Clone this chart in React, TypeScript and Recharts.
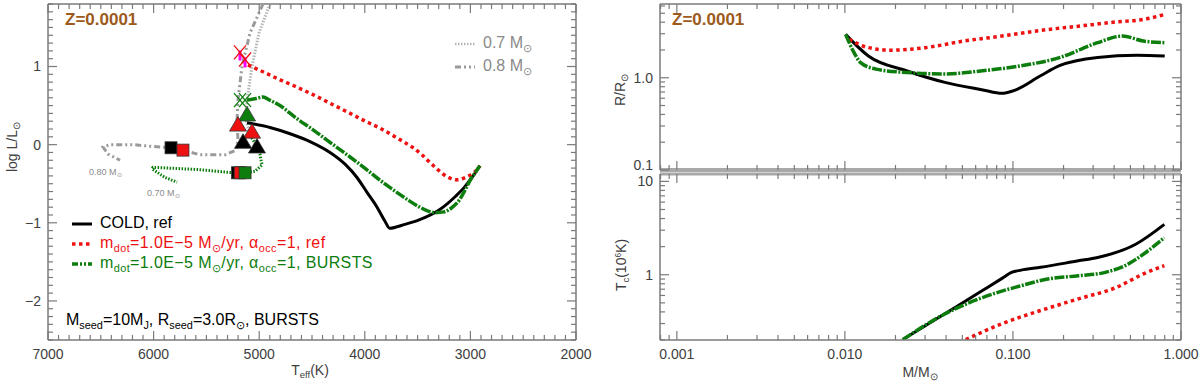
import React from "react";
import { ComposedChart, LineChart, Line, Scatter, XAxis, YAxis, ReferenceLine } from "recharts";

const FRAME = "#7a7a7a";
const TXT = "#404040";
const RED = "#ee1111";
const GREEN = "#0d7d0d";
const BROWN = "#9c5a1c";
const GRAY = "#9a9a9a";
const MAGENTA = "#ff00ff";
const FONT = "'Liberation Sans', Arial, Helvetica, sans-serif";

// ---- HR diagram: Teff [K] vs log L/Lsun ----
const coldRef = [
  { t: 5115, l: 0.28 }, { t: 4898, l: 0.22 }, { t: 4708, l: 0.14 }, { t: 4519, l: 0.04 },
  { t: 4329, l: -0.1 }, { t: 4187, l: -0.25 }, { t: 4074, l: -0.42 }, { t: 3979, l: -0.61 },
  { t: 3884, l: -0.8 }, { t: 3809, l: -0.98 }, { t: 3765, l: -1.07 }, { t: 3620, l: -1.02 },
  { t: 3480, l: -0.96 }, { t: 3300, l: -0.84 }, { t: 3140, l: -0.66 }, { t: 3060, l: -0.55 },
  { t: 2990, l: -0.43 }, { t: 2910, l: -0.27 },
];
const mdotRef = [
  { t: 5106, l: 1.02 }, { t: 4960, l: 0.93 }, { t: 4803, l: 0.83 }, { t: 4650, l: 0.74 },
  { t: 4490, l: 0.64 }, { t: 4330, l: 0.53 }, { t: 4168, l: 0.42 }, { t: 4010, l: 0.31 },
  { t: 3856, l: 0.21 }, { t: 3700, l: 0.09 }, { t: 3543, l: -0.04 }, { t: 3460, l: -0.13 },
  { t: 3382, l: -0.23 }, { t: 3300, l: -0.33 }, { t: 3221, l: -0.41 }, { t: 3127, l: -0.45 },
  { t: 3032, l: -0.41 }, { t: 2937, l: -0.32 }, { t: 2909, l: -0.27 },
];
const mdotBursts = [
  { t: 5115, l: 0.57 }, { t: 5030, l: 0.59 }, { t: 4964, l: 0.61 }, { t: 4900, l: 0.57 },
  { t: 4803, l: 0.5 }, { t: 4650, l: 0.34 }, { t: 4490, l: 0.19 }, { t: 4330, l: 0.03 },
  { t: 4168, l: -0.13 }, { t: 4010, l: -0.29 }, { t: 3880, l: -0.43 }, { t: 3750, l: -0.56 },
  { t: 3600, l: -0.7 }, { t: 3480, l: -0.8 }, { t: 3400, l: -0.85 }, { t: 3330, l: -0.87 },
  { t: 3250, l: -0.86 }, { t: 3170, l: -0.8 }, { t: 3100, l: -0.7 }, { t: 3050, l: -0.58 },
  { t: 3000, l: -0.45 }, { t: 2950, l: -0.35 }, { t: 2910, l: -0.27 },
];
const track08 = [
  { t: 4964, l: 1.8 }, { t: 5087, l: 1.43 }, { t: 5163, l: 1.0 }, { t: 5201, l: 0.57 },
  { t: 5210, l: 0.32 }, { t: 5201, l: 0.06 }, { t: 5220, l: -0.07 }, { t: 5324, l: -0.13 },
  { t: 5561, l: -0.13 }, { t: 5722, l: -0.07 }, { t: 5835, l: -0.04 }, { t: 6034, l: -0.02 },
  { t: 6195, l: 0.0 }, { t: 6413, l: 0.0 }, { t: 6479, l: -0.03 }, { t: 6432, l: -0.12 },
  { t: 6318, l: -0.2 },
];
const track07Upper = [
  { t: 4898, l: 1.8 }, { t: 5002, l: 1.43 }, { t: 5068, l: 1.0 }, { t: 5115, l: 0.57 },
  { t: 5125, l: 0.32 }, { t: 5087, l: 0.12 },
];
const track07Lower = [
  { t: 5087, l: 0.12 }, { t: 5040, l: 0.02 }, { t: 4992, l: -0.13 }, { t: 4973, l: -0.26 },
  { t: 5040, l: -0.34 }, { t: 5134, l: -0.36 }, { t: 5248, l: -0.36 }, { t: 5561, l: -0.32 },
  { t: 6006, l: -0.29 }, { t: 6015, l: -0.31 }, { t: 5892, l: -0.42 }, { t: 5778, l: -0.48 },
];
const blackSquares = [{ t: 5835, l: -0.04 }, { t: 5205, l: -0.36 }];
const redSquares = [{ t: 5722, l: -0.07 }, { t: 5180, l: -0.36 }];
const greenSquares = [{ t: 5134, l: -0.36 }];
const greenTriangles = [{ t: 5115, l: 0.38 }];
const redTriangles = [{ t: 5201, l: 0.25 }, { t: 5068, l: 0.16 }];
const blackTriangles = [{ t: 5153, l: 0.03 }, { t: 5021, l: -0.03 }];
const redCrosses = [{ t: 5182, l: 1.18 }, { t: 5134, l: 1.09 }];
const greenCrosses = [{ t: 5182, l: 0.57 }, { t: 5134, l: 0.57 }];

// ---- radius vs mass ----
const radiusCold = [
  { m: 0.0101, v: 2.95 }, { m: 0.0138, v: 1.72 }, { m: 0.0232, v: 1.19 }, { m: 0.0394, v: 0.89 },
  { m: 0.0662, v: 0.738 }, { m: 0.0861, v: 0.677 }, { m: 0.101, v: 0.724 }, { m: 0.146, v: 1.05 },
  { m: 0.189, v: 1.35 }, { m: 0.319, v: 1.66 }, { m: 0.545, v: 1.75 }, { m: 0.8, v: 1.72 },
];
const radiusMdot = [
  { m: 0.0106, v: 2.61 }, { m: 0.0138, v: 2.12 }, { m: 0.0189, v: 1.99 }, { m: 0.0302, v: 2.12 },
  { m: 0.0511, v: 2.5 }, { m: 0.0861, v: 2.83 }, { m: 0.146, v: 3.26 }, { m: 0.245, v: 3.62 },
  { m: 0.414, v: 4.03 }, { m: 0.597, v: 4.28 }, { m: 0.796, v: 4.84 },
];
const radiusBursts = [
  { m: 0.0101, v: 2.95 }, { m: 0.0112, v: 1.95 }, { m: 0.0124, v: 1.46 }, { m: 0.0153, v: 1.24 },
  { m: 0.0233, v: 1.14 }, { m: 0.0393, v: 1.1 }, { m: 0.066, v: 1.19 }, { m: 0.112, v: 1.35 },
  { m: 0.189, v: 1.65 }, { m: 0.319, v: 2.4 }, { m: 0.448, v: 2.83 }, { m: 0.597, v: 2.5 },
  { m: 0.796, v: 2.4 },
];

// ---- central temperature vs mass ----
const tcCold = [
  { m: 0.0221, v: 0.202 }, { m: 0.0393, v: 0.382 }, { m: 0.0662, v: 0.681 }, { m: 0.0861, v: 0.914 },
  { m: 0.098, v: 1.06 }, { m: 0.112, v: 1.12 }, { m: 0.146, v: 1.2 }, { m: 0.245, v: 1.41 },
  { m: 0.319, v: 1.53 }, { m: 0.538, v: 2.12 }, { m: 0.796, v: 3.46 },
];
const tcBursts = [
  { m: 0.0221, v: 0.202 }, { m: 0.0393, v: 0.38 }, { m: 0.066, v: 0.57 }, { m: 0.112, v: 0.764 },
  { m: 0.161, v: 0.9 }, { m: 0.245, v: 0.975 }, { m: 0.354, v: 1.06 }, { m: 0.484, v: 1.3 },
  { m: 0.597, v: 1.66 }, { m: 0.796, v: 2.49 },
];
const tcMdot = [
  { m: 0.0524, v: 0.202 }, { m: 0.0861, v: 0.299 }, { m: 0.146, v: 0.414 }, { m: 0.245, v: 0.551 },
  { m: 0.414, v: 0.733 }, { m: 0.597, v: 1.02 }, { m: 0.796, v: 1.25 },
];

// ---- ticks ----
const TEFF_MAJOR = [2000, 3000, 4000, 5000, 6000, 7000];
const TEFF_TICKS = Array.from({ length: 51 }, (_, i) => 2000 + i * 100);
const LUM_MAJOR = [-2, -1, 0, 1];
const LUM_TICKS = Array.from({ length: 44 }, (_, i) => Math.round((-2.5 + i * 0.1) * 10) / 10);
const MASS_MAJOR = [0.001, 0.01, 0.1, 1];
const MASS_TICKS = [0.0008, 0.0009, ...[0.001, 0.01, 0.1].flatMap((d) => [1, 2, 3, 4, 5, 6, 7, 8, 9].map((k) => +(k * d).toPrecision(3))), 1];
const RAD_MAJOR = [0.1, 1];
const RAD_TICKS = [0.1, 0.2, 0.3, 0.4, 0.5, 0.6, 0.7, 0.8, 0.9, 1, 2, 3, 4, 5, 6];
const TC_MAJOR = [1, 10];
const TC_TICKS = [0.2, 0.3, 0.4, 0.5, 0.6, 0.7, 0.8, 0.9, 1, 2, 3, 4, 5, 6, 7, 8, 9, 10];

type Box = { left: number; right: number; top: number; bottom: number };
const HR_BOX: Box = { left: 48, right: 576, top: 4, bottom: 340 };
const RT_BOX: Box = { left: 60, right: 581, top: 4, bottom: 170 };
const RB_BOX: Box = { left: 60, right: 581, top: 2, bottom: 168 };

const isMajor = (v: number, majors: number[]) =>
  majors.some((m) => Math.abs(m - v) <= 1e-6 * Math.max(1e-3, Math.abs(m)));

const yTick = (box: Box, majors: number[], fmt: (v: number) => string) => (p: any) => {
  const y = p.payload.coordinate;
  const v = p.payload.value;
  const big = isMajor(v, majors);
  const len = big ? 9 : 5;
  const shift = Math.abs(y - box.bottom) < 3 ? -5 : Math.abs(y - box.top) < 3 ? 4 : 0;
  return (
    <g>
      <line x1={box.left} x2={box.left + len} y1={y} y2={y} stroke={FRAME} strokeWidth={1.2} />
      <line x1={box.right} x2={box.right - len} y1={y} y2={y} stroke={FRAME} strokeWidth={1.2} />
      {big && (
        <text x={box.left - 7} y={y + shift} dy="0.35em" textAnchor="end" fontSize={14} fill={TXT} fontFamily={FONT}>
          {fmt(v)}
        </text>
      )}
    </g>
  );
};

const xTick = (box: Box, majors: number[], fmt: ((v: number) => string) | null) => (p: any) => {
  const x = p.payload.coordinate;
  const v = p.payload.value;
  const big = isMajor(v, majors);
  const len = big ? 9 : 5;
  return (
    <g>
      <line x1={x} x2={x} y1={box.bottom} y2={box.bottom - len} stroke={FRAME} strokeWidth={1.2} />
      <line x1={x} x2={x} y1={box.top} y2={box.top + len} stroke={FRAME} strokeWidth={1.2} />
      {big && fmt && (
        <text x={x} y={box.bottom + 19} textAnchor="middle" fontSize={14} fill={TXT} fontFamily={FONT}>
          {fmt(v)}
        </text>
      )}
    </g>
  );
};

const square = (fill: string) => (p: any) => (
  <rect x={p.cx - 6} y={p.cy - 6} width={12} height={12} fill={fill} stroke="#333" strokeWidth={0.8} />
);
const triangle = (fill: string) => (p: any) => (
  <polygon
    points={`${p.cx - 8.5},${p.cy + 6} ${p.cx + 8.5},${p.cy + 6} ${p.cx},${p.cy - 8.5}`}
    fill={fill}
    stroke="#333"
    strokeWidth={0.8}
  />
);
const cross = (color: string, under?: string) => (p: any) => (
  <g>
    {under && (
      <line x1={p.cx} x2={p.cx} y1={p.cy - 2} y2={p.cy + 8} stroke={under} strokeWidth={3} />
    )}
    <line x1={p.cx - 6} x2={p.cx + 6} y1={p.cy - 7} y2={p.cy + 7} stroke={color} strokeWidth={1.3} />
    <line x1={p.cx + 6} x2={p.cx - 6} y1={p.cy - 7} y2={p.cy + 7} stroke={color} strokeWidth={1.3} />
  </g>
);

const axisLine = { stroke: FRAME, strokeWidth: 1.5 };
const fmtSigned = (v: number) => (v < 0 ? `\u2212${Math.abs(v)}` : String(v));
const GREEN_DASH = "10 1.5 2 1.5";

const Sample = ({ color, dash, width = 3 }: { color: string; dash?: string; width?: number }) => (
  <svg width={20} height={8} style={{ verticalAlign: "middle", marginRight: 8 }}>
    <line x1={0} x2={20} y1={4} y2={4} stroke={color} strokeWidth={width} strokeDasharray={dash} />
  </svg>
);

const sub: React.CSSProperties = { fontSize: "0.68em", verticalAlign: "-0.35em", lineHeight: 0 };
const sunSub = <span style={sub}>⊙</span>;

const abs = (left: number, top: number, extra: React.CSSProperties = {}): React.CSSProperties => ({
  position: "absolute",
  left,
  top,
  whiteSpace: "nowrap",
  lineHeight: 1,
  transform: "translateY(-50%)",
  ...extra,
});

const rot = (cx: number, cy: number): React.CSSProperties => ({
  position: "absolute",
  left: cx,
  top: cy,
  whiteSpace: "nowrap",
  lineHeight: 1,
  fontSize: 14,
  color: TXT,
  transform: "translate(-50%, -50%) rotate(-90deg)",
});

export default function App() {
  return (
    <div
      style={{
        position: "absolute",
        left: 0,
        top: 0,
        width: 1200,
        height: 381,
        background: "#fff",
        fontFamily: FONT,
        overflow: "hidden",
      }}
    >
      {/* HR diagram */}
      <div style={{ position: "absolute", left: 0, top: 0 }}>
        <ComposedChart width={600} height={381} margin={{ top: 4, right: 24, bottom: 0, left: 0 }}>
          <XAxis
            type="number"
            dataKey="t"
            domain={[2000, 7000]}
            reversed
            allowDataOverflow
            ticks={TEFF_TICKS}
            interval={0}
            tickLine={false}
            tickSize={0}
            height={41}
            axisLine={axisLine}
            tick={xTick(HR_BOX, TEFF_MAJOR, (v) => String(v))}
          />
          <YAxis
            type="number"
            dataKey="l"
            domain={[-2.5, 1.8]}
            allowDataOverflow
            ticks={LUM_TICKS}
            interval={0}
            tickLine={false}
            tickSize={0}
            width={48}
            axisLine={axisLine}
            tick={yTick(HR_BOX, LUM_MAJOR, fmtSigned)}
          />
          <ReferenceLine x={2000} stroke={FRAME} strokeWidth={1.5} />
          <ReferenceLine y={1.8} stroke={FRAME} strokeWidth={1.5} />
          <Line data={track07Upper} dataKey="l" type="linear" stroke="#b5b5b5" strokeWidth={3} strokeDasharray="1.5 1.5" dot={false} isAnimationActive={false} />
          <Line data={track08} dataKey="l" type="linear" stroke={GRAY} strokeWidth={3} strokeDasharray="6 3 2 3 2 3" dot={false} isAnimationActive={false} />
          <Line data={track07Lower} dataKey="l" type="linear" stroke={GREEN} strokeWidth={3} strokeDasharray="1.5 1.5" dot={false} isAnimationActive={false} />
          <Line data={coldRef} dataKey="l" type="monotone" stroke="#000" strokeWidth={3} dot={false} isAnimationActive={false} />
          <Line data={mdotRef} dataKey="l" type="monotone" stroke={RED} strokeWidth={3.5} strokeDasharray="3.5 3.5" dot={false} isAnimationActive={false} />
          <Line data={mdotBursts} dataKey="l" type="monotone" stroke={GREEN} strokeWidth={3.5} strokeDasharray={GREEN_DASH} dot={false} isAnimationActive={false} />
          <Scatter data={redCrosses} dataKey="l" shape={cross(RED, MAGENTA)} isAnimationActive={false} />
          <Scatter data={greenCrosses} dataKey="l" shape={cross(GREEN)} isAnimationActive={false} />
          <Scatter data={blackSquares} dataKey="l" shape={square("#000")} isAnimationActive={false} />
          <Scatter data={redSquares} dataKey="l" shape={square(RED)} isAnimationActive={false} />
          <Scatter data={greenSquares} dataKey="l" shape={square(GREEN)} isAnimationActive={false} />
          <Scatter data={greenTriangles} dataKey="l" shape={triangle(GREEN)} isAnimationActive={false} />
          <Scatter data={redTriangles} dataKey="l" shape={triangle(RED)} isAnimationActive={false} />
          <Scatter data={blackTriangles} dataKey="l" shape={triangle("#000")} isAnimationActive={false} />
        </ComposedChart>
      </div>

      {/* R/Rsun vs mass */}
      <div style={{ position: "absolute", left: 600, top: 0 }}>
        <LineChart width={600} height={172} margin={{ top: 4, right: 19, bottom: 1, left: 0 }}>
          <XAxis
            type="number"
            dataKey="m"
            scale="log"
            domain={[0.000794, 1]}
            allowDataOverflow
            ticks={MASS_TICKS}
            interval={0}
            tickLine={false}
            tickSize={0}
            height={1}
            axisLine={{ stroke: "#a8a8a8", strokeWidth: 4 }}
            tick={xTick(RT_BOX, MASS_MAJOR, null)}
          />
          <YAxis
            type="number"
            dataKey="v"
            scale="log"
            domain={[0.1, 6.3]}
            allowDataOverflow
            ticks={RAD_TICKS}
            interval={0}
            tickLine={false}
            tickSize={0}
            width={60}
            axisLine={axisLine}
            tick={yTick(RT_BOX, RAD_MAJOR, (v) => v.toFixed(1))}
          />
          <ReferenceLine x={1} stroke={FRAME} strokeWidth={1.5} />
          <ReferenceLine y={6.3} stroke={FRAME} strokeWidth={1.5} />
          <Line data={radiusCold} dataKey="v" type="monotone" stroke="#000" strokeWidth={3} dot={false} isAnimationActive={false} />
          <Line data={radiusMdot} dataKey="v" type="monotone" stroke={RED} strokeWidth={3.5} strokeDasharray="3.5 3.5" dot={false} isAnimationActive={false} />
          <Line data={radiusBursts} dataKey="v" type="monotone" stroke={GREEN} strokeWidth={3.5} strokeDasharray={GREEN_DASH} dot={false} isAnimationActive={false} />
        </LineChart>
      </div>

      {/* Tc vs mass */}
      <div style={{ position: "absolute", left: 600, top: 172 }}>
        <LineChart width={600} height={209} margin={{ top: 2, right: 19, bottom: 0, left: 0 }}>
          <XAxis
            type="number"
            dataKey="m"
            scale="log"
            domain={[0.000794, 1]}
            allowDataOverflow
            ticks={MASS_TICKS}
            interval={0}
            tickLine={false}
            tickSize={0}
            height={41}
            axisLine={axisLine}
            tick={xTick(RB_BOX, MASS_MAJOR, (v) => v.toFixed(3))}
          />
          <YAxis
            type="number"
            dataKey="v"
            scale="log"
            domain={[0.2, 12]}
            allowDataOverflow
            ticks={TC_TICKS}
            interval={0}
            tickLine={false}
            tickSize={0}
            width={60}
            axisLine={axisLine}
            tick={yTick(RB_BOX, TC_MAJOR, (v) => String(v))}
          />
          <ReferenceLine x={1} stroke={FRAME} strokeWidth={1.5} />
          <ReferenceLine y={12} stroke="#a8a8a8" strokeWidth={3} />
          <Line data={tcCold} dataKey="v" type="monotone" stroke="#000" strokeWidth={3} dot={false} isAnimationActive={false} />
          <Line data={tcMdot} dataKey="v" type="monotone" stroke={RED} strokeWidth={3.5} strokeDasharray="3.5 3.5" dot={false} isAnimationActive={false} />
          <Line data={tcBursts} dataKey="v" type="monotone" stroke={GREEN} strokeWidth={3.5} strokeDasharray={GREEN_DASH} dot={false} isAnimationActive={false} />
        </LineChart>
      </div>

      {/* texts */}
      <div style={abs(65, 19, { color: BROWN, fontWeight: "bold", fontSize: 17 })}>Z=0.0001</div>
      <div style={abs(672, 19, { color: BROWN, fontWeight: "bold", fontSize: 17 })}>Z=0.0001</div>

      <div style={abs(455, 43, { color: "#8a8a8a", fontSize: 16 })}>
        <Sample color="#b5b5b5" dash="1.5 1.5" width={2.5} />0.7 M{sunSub}
      </div>
      <div style={abs(455, 66, { color: "#8a8a8a", fontSize: 16 })}>
        <Sample color={GRAY} dash="6 3 2 3 2 3" width={3} />0.8 M{sunSub}
      </div>
      <div style={abs(89, 172, { color: "#8a8a8a", fontSize: 9 })}>0.80 M{sunSub}</div>
      <div style={abs(147, 193, { color: "#8a8a8a", fontSize: 9 })}>0.70 M{sunSub}</div>

      <div style={abs(72, 223, { color: "#000", fontSize: 16 })}>
        <Sample color="#000" width={3} />COLD, ref
      </div>
      <div style={abs(72, 243, { color: RED, fontSize: 16, letterSpacing: 0.4 })}>
        <Sample color={RED} dash="3.5 3.5" width={3.5} />m<span style={sub}>dot</span>=1.0E−5 M{sunSub}/yr, α
        <span style={sub}>occ</span>=1, ref
      </div>
      <div style={abs(72, 263, { color: GREEN, fontSize: 16, letterSpacing: 0.4 })}>
        <Sample color={GREEN} dash="6 2 2 2 2 2" width={3.5} />m<span style={sub}>dot</span>=1.0E−5 M{sunSub}/yr, α
        <span style={sub}>occ</span>=1, BURSTS
      </div>
      <div style={abs(66, 320, { color: "#000", fontSize: 16 })}>
        M<span style={sub}>seed</span>=10M<span style={sub}>J</span>, R<span style={sub}>seed</span>=3.0R{sunSub}, BURSTS
      </div>

      <div style={rot(12, 147)}>
        log L/L{sunSub}
      </div>
      <div style={abs(310, 370, { fontSize: 14, color: TXT, transform: "translate(-50%, -50%)" })}>
        T<span style={sub}>eff</span>(K)
      </div>
      <div style={rot(620, 90)}>
        R/R{sunSub}
      </div>
      <div style={rot(621, 265)}>
        T<span style={sub}>c</span>(10<span style={{ fontSize: "0.6em", verticalAlign: "0.6em", lineHeight: 0 }}>6</span>K)
      </div>
      <div style={abs(920, 372, { fontSize: 14, color: TXT, transform: "translate(-50%, -50%)" })}>
        M/M{sunSub}
      </div>
    </div>
  );
}
